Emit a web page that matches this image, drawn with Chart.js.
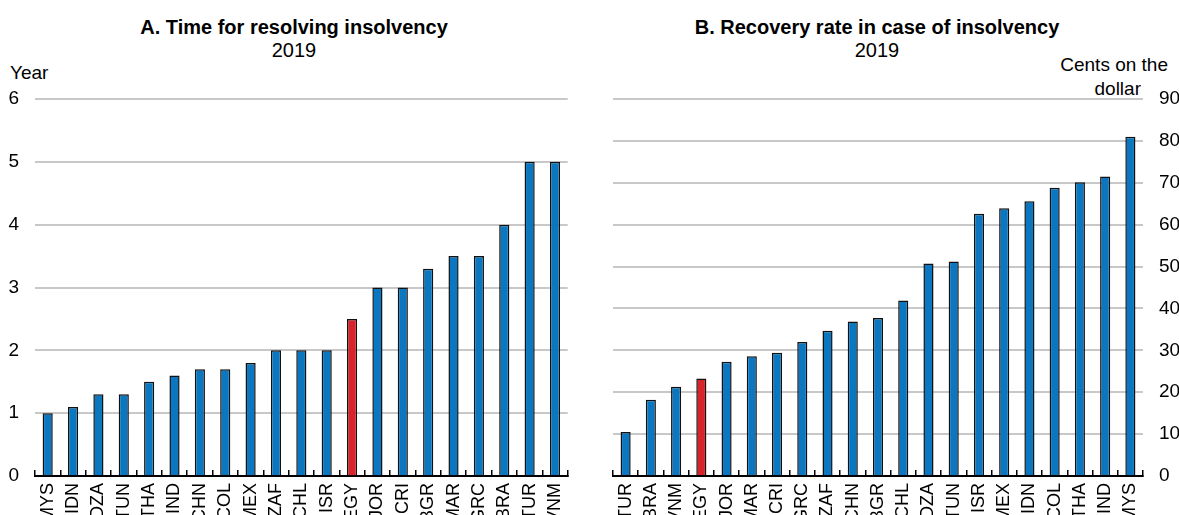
<!DOCTYPE html>
<html>
<head>
<meta charset="utf-8">
<script src="https://cdn.jsdelivr.net/npm/chart.js@4.4.0/dist/chart.umd.min.js"></script>
<style>
  html, body { margin: 0; padding: 0; background: #fff; width: 1179px; height: 515px; overflow: hidden; }
  canvas { position: absolute; top: 0; }
  .txt { position: absolute; font-family: 'Liberation Sans Narrow', 'Liberation Sans', Arial, sans-serif; color: #000; white-space: nowrap; line-height: 1; }
  .ttl { font-weight: bold; font-size: 20px; text-align: center; }
  .sub { font-size: 20px; text-align: center; }
  .unit { font-size: 19px; }
</style>
</head>
<body>
<div class="txt ttl" style="left:0;width:588px;top:17px;">A. Time for resolving insolvency</div>
<div class="txt sub" style="left:0;width:588px;top:40px;">2019</div>
<div class="txt unit" style="left:10px;top:63px;">Year</div>

<div class="txt ttl" style="left:590px;width:574px;top:17px;">B. Recovery rate in case of insolvency</div>
<div class="txt sub" style="left:590px;width:574px;top:40px;">2019</div>
<div class="txt unit" style="right:11px;top:55px;text-align:right;">Cents on the</div>
<div class="txt unit" style="right:38px;top:79px;text-align:right;">dollar</div>

<canvas id="chart-time" width="590" height="515" style="left:0;"></canvas>
<canvas id="chart-recovery" width="589" height="515" style="left:590px;"></canvas>

<script>
// ─── Data ────────────────────────────────────────────────────────────────────
const timeCountries = ['MYS','IDN','DZA','TUN','THA','IND','CHN','COL','MEX','ZAF','CHL','ISR','EGY','JOR','CRI','BGR','MAR','GRC','BRA','TUR','VNM'];
const timeYears = [1, 1.1, 1.3, 1.3, 1.5, 1.6, 1.7, 1.7, 1.8, 2, 2, 2, 2.5, 3, 3, 3.3, 3.5, 3.5, 4, 5, 5];
const timeTicks = [0, 1, 2, 3, 4, 5, 6];

const recoveryCountries = ['TUR','BRA','VNM','EGY','JOR','MAR','CRI','GRC','ZAF','CHN','BGR','CHL','DZA','TUN','ISR','MEX','IDN','COL','THA','IND','MYS'];
const recoveryCents = [10.5, 18.2, 21.3, 23.3, 27.3, 28.6, 29.4, 32.0, 34.7, 36.9, 37.7, 41.9, 50.7, 51.2, 62.6, 63.9, 65.6, 68.8, 70.1, 71.5, 81.0];
const recoveryTicks = [0, 10, 20, 30, 40, 50, 60, 70, 80, 90];

const highlight = 'EGY';

// ─── Style ───────────────────────────────────────────────────────────────────
const FONT = "'Liberation Sans Narrow', 'Liberation Sans', Arial, sans-serif";
const BLUE = '#0a77c0';
const RED = '#d9222a';
const GRID = '#c8c8c8';

Chart.defaults.font.family = FONT;
Chart.defaults.color = '#000';

function barChart(id, labels, values, ticks, side, padding) {
  const ctx = document.getElementById(id);
  return new Chart(ctx, {
    type: 'bar',
    data: {
      labels: labels,
      datasets: [{
        data: values,
        backgroundColor: labels.map(c => c === highlight ? RED : BLUE),
        borderColor: '#111',
        borderWidth: 1.5,
        categoryPercentage: 1,
        barPercentage: 0.4,
      }]
    },
    options: {
      responsive: false,
      animation: false,
      devicePixelRatio: 1,
      layout: { padding: padding },
      plugins: { legend: { display: false }, tooltip: { enabled: false } },
      scales: {
        x: {
          grid: { display: true, offset: true, drawOnChartArea: false, drawTicks: true, tickLength: -6, color: '#000', lineWidth: 1.5 },
          border: { display: true, color: '#000', width: 2 },
          ticks: { autoSkip: false, minRotation: 90, maxRotation: 90, padding: 13, font: { size: 18 } },
          afterFit: s => { s.height = 39; }
        },
        y: {
          position: side,
          min: ticks[0],
          max: ticks[ticks.length - 1],
          afterBuildTicks: s => { s.ticks = ticks.map(v => ({ value: v })); },
          grid: { color: c => (c.tick && c.tick.value === 0) ? 'rgba(0,0,0,0)' : GRID, lineWidth: 2, drawTicks: false },
          border: { display: false },
          ticks: { padding: 16, font: { size: 19 } },
          afterFit: s => { s.width = side === 'left' ? 35 : 36; }
        }
      }
    }
  });
}

// ─── Init ────────────────────────────────────────────────────────────────────
barChart('chart-time', timeCountries, timeYears, timeTicks, 'left', { top: 99, right: 17, left: 0, bottom: 0 });
barChart('chart-recovery', recoveryCountries, recoveryCents, recoveryTicks, 'right', { top: 99, right: 0, left: 23, bottom: 0 });
</script>
</body>
</html>
